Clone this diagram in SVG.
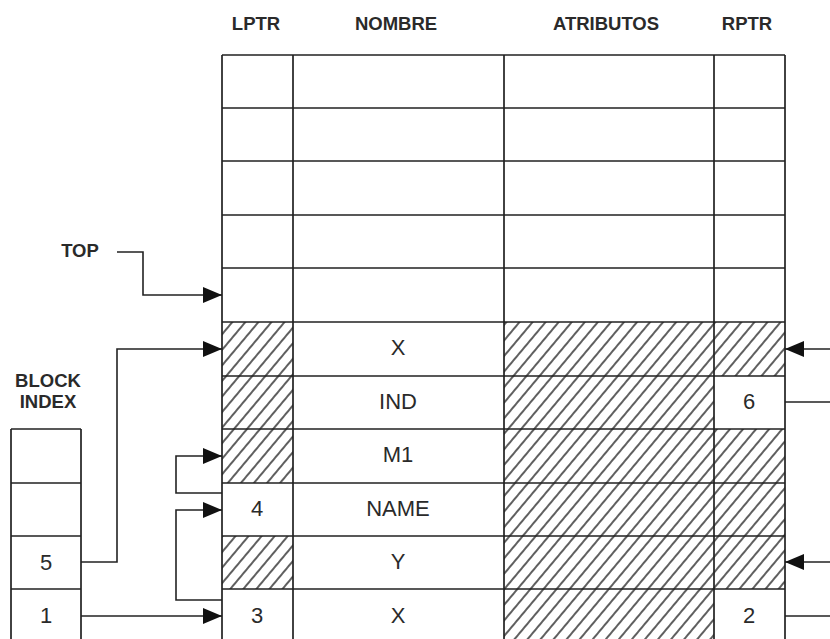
<svg xmlns="http://www.w3.org/2000/svg" width="830" height="639" viewBox="0 0 830 639">
  <style>
    .grid { stroke: #222; stroke-width: 1.7; fill: none; }
    .conn { stroke: #222; stroke-width: 1.6; fill: none; }
    .hdr { font-family: "Liberation Sans", Arial, sans-serif; font-size: 18.5px; font-weight: bold; fill: #2a2a2a; text-anchor: middle; }
    .cell { font-family: "Liberation Sans", Arial, sans-serif; font-size: 22px; fill: #2a2a2a; text-anchor: middle; }
  </style>
  <defs>
    <pattern id="hatch" patternUnits="userSpaceOnUse" width="10" height="10" patternTransform="rotate(40)">
      <line x1="5" y1="-1" x2="5" y2="11" stroke="#1a1a1a" stroke-width="1.4"/>
    </pattern>
    <marker id="arrow" markerUnits="userSpaceOnUse" markerWidth="19" markerHeight="16" refX="19" refY="8" orient="auto">
      <path d="M0,0 L19,8 L0,16 z" fill="#111"/>
    </marker>
  </defs>

  <rect width="830" height="639" fill="#fff"/>

  <!-- column headings -->
  <g id="headers">
    <text class="hdr" x="256" y="30">LPTR</text>
    <text class="hdr" x="396" y="30">NOMBRE</text>
    <text class="hdr" x="606" y="30">ATRIBUTOS</text>
    <text class="hdr" x="747" y="30">RPTR</text>
  </g>

  <!-- symbol table -->
  <g id="symbol-table">
    <!-- hatched (unused) fields -->
    <g fill="url(#hatch)">
      <rect x="222" y="322" width="71" height="54"/>
      <rect x="222" y="376" width="71" height="53"/>
      <rect x="222" y="429" width="71" height="54"/>
      <rect x="222" y="536" width="71" height="53"/>
      <rect x="504" y="322" width="210" height="323"/>
      <rect x="714" y="322" width="71" height="54"/>
      <rect x="714" y="429" width="71" height="54"/>
      <rect x="714" y="483" width="71" height="53"/>
      <rect x="714" y="536" width="71" height="53"/>
    </g>
    <!-- grid -->
    <path class="grid" d="M222,55 V645 M293,55 V645 M504,55 V645 M714,55 V645 M785,55 V645
      M222,55 H785 M222,108 H785 M222,161 H785 M222,215 H785 M222,268 H785 M222,322 H785
      M222,376 H785 M222,429 H785 M222,483 H785 M222,536 H785 M222,589 H785"/>
    <!-- entries -->
    <text class="cell" x="398" y="355">X</text>
    <text class="cell" x="398" y="409">IND</text>
    <text class="cell" x="749" y="409">6</text>
    <text class="cell" x="398" y="462">M1</text>
    <text class="cell" x="257" y="516">4</text>
    <text class="cell" x="398" y="516">NAME</text>
    <text class="cell" x="398" y="569">Y</text>
    <text class="cell" x="257" y="623">3</text>
    <text class="cell" x="398" y="623">X</text>
    <text class="cell" x="749" y="623">2</text>
  </g>

  <!-- TOP label -->
  <g id="top-label">
    <text class="hdr" x="80" y="257">TOP</text>
  </g>

  <!-- block index -->
  <g id="block-index">
    <text class="hdr" x="48" y="387">BLOCK</text>
    <text class="hdr" x="48" y="408">INDEX</text>
    <path class="grid" d="M11,429 V645 M81,429 V645 M11,429 H81 M11,483 H81 M11,536 H81 M11,589 H81"/>
    <text class="cell" x="46" y="570">5</text>
    <text class="cell" x="46" y="623">1</text>
  </g>

  <!-- pointers -->
  <g id="connectors">
    <polyline class="conn" points="117,252 143,252 143,295 222,295" marker-end="url(#arrow)"/>
    <polyline class="conn" points="81,562 117,562 117,349 222,349" marker-end="url(#arrow)"/>
    <polyline class="conn" points="81,616 222,616" marker-end="url(#arrow)"/>
    <polyline class="conn" points="222,493 176,493 176,456 222,456" marker-end="url(#arrow)"/>
    <polyline class="conn" points="222,600 176,600 176,510 222,510" marker-end="url(#arrow)"/>
    <polyline class="conn" points="830,349 785,349" marker-end="url(#arrow)"/>
    <polyline class="conn" points="785,402 830,402"/>
    <polyline class="conn" points="830,562 785,562" marker-end="url(#arrow)"/>
    <polyline class="conn" points="785,616 830,616"/>
  </g>
</svg>
